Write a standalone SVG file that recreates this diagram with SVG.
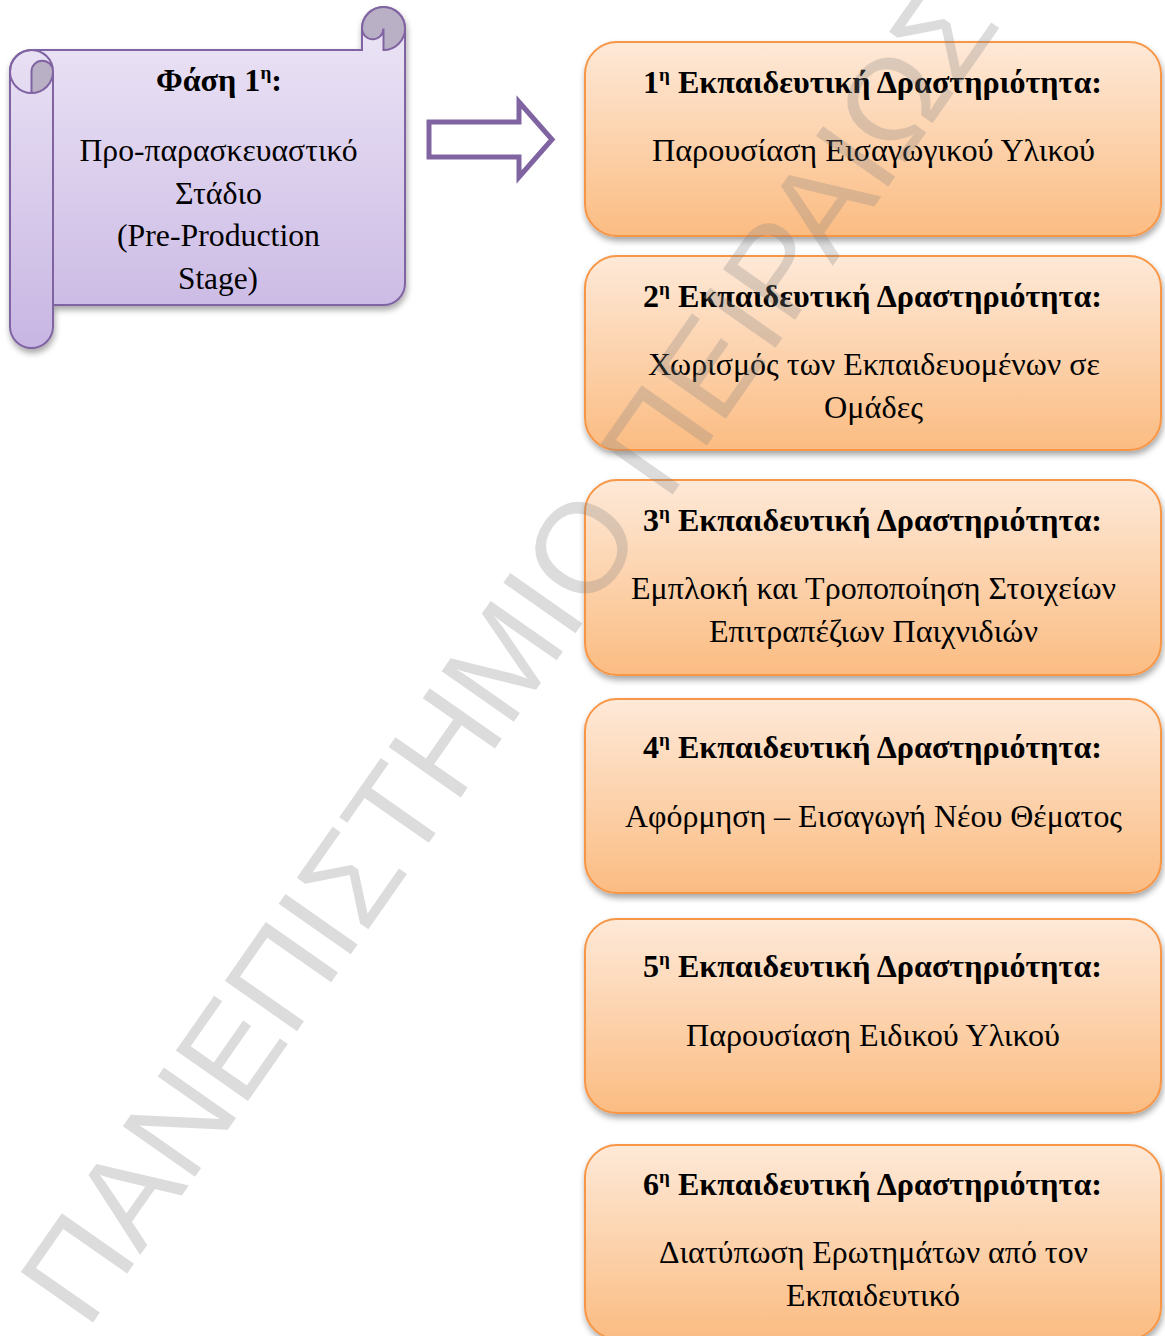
<svg xmlns="http://www.w3.org/2000/svg" width="1165" height="1336" viewBox="0 0 1165 1336">
<defs>
<style>
.box{fill:url(#og);stroke:#f79646;stroke-width:2;filter:url(#sh)}
.t{font-family:"Liberation Serif","Times New Roman",serif;font-size:32px;fill:#000;text-anchor:middle}
.h{font-weight:bold;font-size:32px}
.sup{font-size:19px}
.ln{fill:none;stroke:#8064a2;stroke-width:2}
.wm{font-family:"Liberation Sans",Arial,sans-serif;font-size:128px;fill:#808080;fill-opacity:0.28}
</style>
<linearGradient id="og" x1="0" y1="0" x2="0" y2="1">
<stop offset="0" stop-color="#fee9d8"/>
<stop offset="1" stop-color="#fbbc82"/>
</linearGradient>
<linearGradient id="pg" x1="0" y1="0" x2="0" y2="1">
<stop offset="0" stop-color="#ede6f6"/>
<stop offset="1" stop-color="#c8b6e3"/>
</linearGradient>
<filter id="sh" x="-10%" y="-10%" width="125%" height="130%">
<feDropShadow dx="1" dy="4" stdDeviation="3" flood-color="#000" flood-opacity="0.35"/>
</filter>
</defs>
<rect width="1165" height="1336" fill="#fff"/>

<g id="phase1">
<path d="M405,28.5 L405,283.5 A21.5,21.5 0 0 1 383.5,305 L53,305 L53,326.5 A21.5,21.5 0 0 1 10,326.5 L10,71.5 A21.5,21.5 0 0 1 31.5,50 L362,50 L362,28.5 A21.5,21.5 0 0 1 405,28.5 Z" fill="url(#pg)" stroke="#8064a2" stroke-width="2" filter="url(#sh)"/>
<path d="M362,28.5 A21.5,21.5 0 0 1 405,28.5 A21.5,21.5 0 0 1 383.5,50 L383.5,28.5 A10.75,10.75 0 0 1 362,28.5 Z" fill="#b9b0c6"/>
<path d="M31.5,71.5 A10.75,10.75 0 0 1 53,71.5 A21.5,21.5 0 0 1 31.5,93 Z" fill="#b9b0c6"/>
<path class="ln" d="M362,28.5 A21.5,21.5 0 0 1 405,28.5 A21.5,21.5 0 0 1 383.5,50 L383.5,28.5 A10.75,10.75 0 0 1 362,28.5"/>
<path class="ln" d="M10,71.5 A21.5,21.5 0 0 0 53,71.5 A21.5,21.5 0 0 0 10,71.5 M31.5,93 L31.5,71.5 A10.75,10.75 0 0 1 53,71.5 L53,305"/>
<text class="t h" x="219" y="91" textLength="126" lengthAdjust="spacingAndGlyphs">Φάση 1<tspan class="sup" dy="-12">η</tspan><tspan dy="12">:</tspan></text>
<text class="t" x="218.5" y="161" textLength="278" lengthAdjust="spacingAndGlyphs">Προ-παρασκευαστικό</text>
<text class="t" x="218.5" y="204" textLength="87" lengthAdjust="spacingAndGlyphs">Στάδιο</text>
<text class="t" x="218.5" y="246" textLength="203" lengthAdjust="spacingAndGlyphs">(Pre-Production</text>
<text class="t" x="218" y="289" textLength="80" lengthAdjust="spacingAndGlyphs">Stage)</text>
</g>

<g id="connectors">
<path d="M429,122 L519,122 L519,102 L552,139.5 L519,177 L519,157 L429,157 Z" fill="#fff" stroke="#8064a2" stroke-width="5" stroke-linejoin="miter"/>
</g>

<g id="act1">
<rect class="box" x="585" y="42" width="576" height="194" rx="32"/>
<text class="t h" x="872.5" y="93" textLength="459" lengthAdjust="spacingAndGlyphs">1<tspan class="sup" dy="-12">η</tspan><tspan dy="12"> Εκπαιδευτική Δραστηριότητα:</tspan></text>
<text class="t" x="873.5" y="161" textLength="443" lengthAdjust="spacingAndGlyphs">Παρουσίαση Εισαγωγικού Υλικού</text>
</g>
<g id="act2">
<rect class="box" x="585" y="256" width="576" height="194" rx="32"/>
<text class="t h" x="872.5" y="307" textLength="459" lengthAdjust="spacingAndGlyphs">2<tspan class="sup" dy="-12">η</tspan><tspan dy="12"> Εκπαιδευτική Δραστηριότητα:</tspan></text>
<text class="t" x="874" y="375" textLength="452" lengthAdjust="spacingAndGlyphs">Χωρισμός των Εκπαιδευομένων σε</text>
<text class="t" x="873.5" y="418" textLength="99" lengthAdjust="spacingAndGlyphs">Ομάδες</text>
</g>
<g id="act3">
<rect class="box" x="585" y="480" width="576" height="195" rx="32"/>
<text class="t h" x="872.5" y="531" textLength="459" lengthAdjust="spacingAndGlyphs">3<tspan class="sup" dy="-12">η</tspan><tspan dy="12"> Εκπαιδευτική Δραστηριότητα:</tspan></text>
<text class="t" x="873.5" y="599" textLength="485" lengthAdjust="spacingAndGlyphs">Εμπλοκή και Τροποποίηση Στοιχείων</text>
<text class="t" x="873.5" y="642" textLength="329" lengthAdjust="spacingAndGlyphs">Επιτραπέζιων Παιχνιδιών</text>
</g>
<g id="act4">
<rect class="box" x="585" y="699" width="576" height="194" rx="32"/>
<text class="t h" x="872.5" y="758" textLength="459" lengthAdjust="spacingAndGlyphs">4<tspan class="sup" dy="-12">η</tspan><tspan dy="12"> Εκπαιδευτική Δραστηριότητα:</tspan></text>
<text class="t" x="873.5" y="827" textLength="497" lengthAdjust="spacingAndGlyphs">Αφόρμηση – Εισαγωγή Νέου Θέματος</text>
</g>
<g id="act5">
<rect class="box" x="585" y="919" width="576" height="194" rx="32"/>
<text class="t h" x="872.5" y="977" textLength="459" lengthAdjust="spacingAndGlyphs">5<tspan class="sup" dy="-12">η</tspan><tspan dy="12"> Εκπαιδευτική Δραστηριότητα:</tspan></text>
<text class="t" x="873" y="1046" textLength="374" lengthAdjust="spacingAndGlyphs">Παρουσίαση Ειδικού Υλικού</text>
</g>
<g id="act6">
<rect class="box" x="585" y="1145" width="576" height="194" rx="32"/>
<text class="t h" x="872.5" y="1195" textLength="459" lengthAdjust="spacingAndGlyphs">6<tspan class="sup" dy="-12">η</tspan><tspan dy="12"> Εκπαιδευτική Δραστηριότητα:</tspan></text>
<text class="t" x="873.5" y="1263" textLength="429" lengthAdjust="spacingAndGlyphs">Διατύπωση Ερωτημάτων από τον</text>
<text class="t" x="873" y="1306" textLength="174" lengthAdjust="spacingAndGlyphs">Εκπαιδευτικό</text>
</g>

<text class="wm" transform="translate(87,1331) rotate(-55)">ΠΑΝΕΠΙΣΤΗΜΙΟ ΠΕΙΡΑΙΩΣ</text>
</svg>
